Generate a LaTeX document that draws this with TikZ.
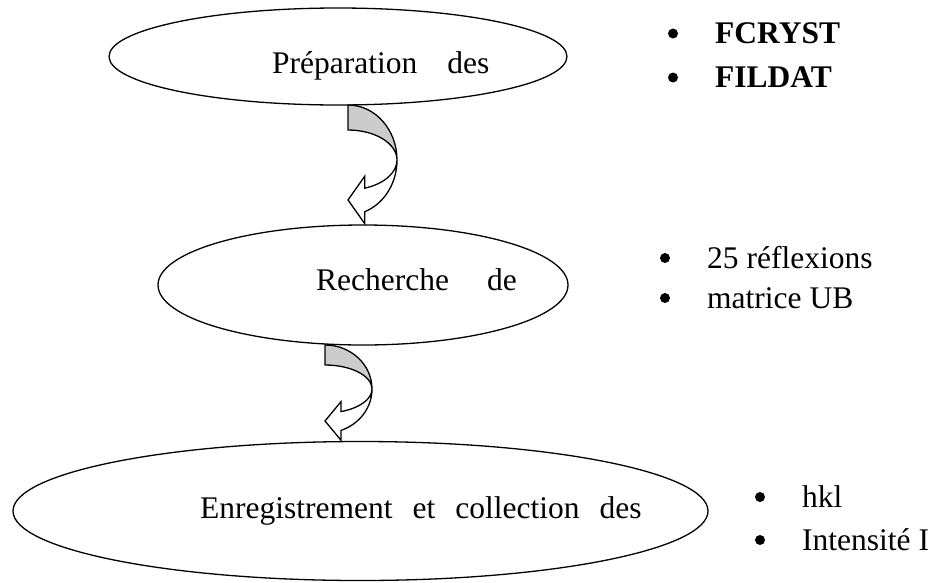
\documentclass[tikz,border=0pt]{standalone}
\usepackage{fontspec}
\setmainfont{Liberation Serif}
\usetikzlibrary{shapes.geometric,calc}
\definecolor{backgray}{RGB}{204,204,204}
\newcommand{\bentarrow}[5]{%
  \draw[band, fill=backgray] ($(#1)+(0,#3)$) arc[start angle=90, end angle=0, x radius=#2, y radius=#3]
    arc[start angle=0, end angle=90, x radius=#2, y radius=#4] -- cycle;
  \draw[band, fill=white] ($(#1)+(#2,0)$) arc[start angle=0, end angle=-70, x radius=#2, y radius=#3]
    -- ++(0,-#5) -- ($(#1)+(0,{-(#3+#4)*sin(70)/2})$)
    -- ($(#1)+({#2*cos(70)},{-#4*sin(70)+#5})$)
    -- ($(#1)+({#2*cos(70)},{-#4*sin(70)})$)
    arc[start angle=-70, end angle=0, x radius=#2, y radius=#4] -- cycle;
}

\begin{document}
\begin{tikzpicture}[
  x=1pt, y=1pt,
  stage/.style={draw, ellipse, line width=1.3pt, fill=white, inner sep=0pt, outer sep=0pt},
  band/.style={line width=1.3pt, line join=miter},
  stagetext/.style={anchor=base west, inner sep=0pt},
  itemtext/.style={anchor=base west, inner sep=0pt},
  bulletdot/.style={circle, fill, inner sep=0pt, minimum size=10pt},
  every node/.style={font={\fontsize{31.5}{38}\selectfont}},
]
  \useasboundingbox (0,0) rectangle (931,-582);

  \node[stage, minimum width=458pt, minimum height=97pt] (prep) at (338,-56.5) {};
  \node[stage, minimum width=410pt, minimum height=120pt] (rech) at (363,-285) {};
  \node[stage, minimum width=695pt, minimum height=139pt] (enr) at (360.5,-511) {};

  \node[stagetext] (prep-txt) at (272,-73) {Préparation\hspace{30pt}des};
  \node[stagetext] (rech-txt) at (316,-290) {Recherche\hspace{38pt}de};
  \node[stagetext] (enr-txt) at (200,-518) {Enregistrement\hspace{20pt}et\hspace{20pt}collection\hspace{20pt}des};

  \coordinate (bend1) at ($(prep.south)+(10,-55)$);
  \coordinate (bend2) at ($(rech.south)+(-38,-44)$);
  \bentarrow{bend1}{49}{55}{30}{12}
  \bentarrow{bend2}{47}{44}{24}{10}

  \node[itemtext] (fcryst) at (715,-43.5) {\textbf{FCRYST}};
  \node[itemtext] (fildat) at (715,-87.5) {\textbf{FILDAT}};
  \node[itemtext] (refl) at (707,-268) {25 réflexions};
  \node[itemtext] (ub) at (707,-308) {matrice UB};
  \node[itemtext] (hkl) at (802,-507) {hkl};
  \node[itemtext] (inten) at (802,-550) {Intensité I};

  \foreach \item in {fcryst,fildat,refl,ub,hkl,inten}
    \node[bulletdot] at ($(\item.base west)+(-42,10)$) {};
\end{tikzpicture}
\end{document}
